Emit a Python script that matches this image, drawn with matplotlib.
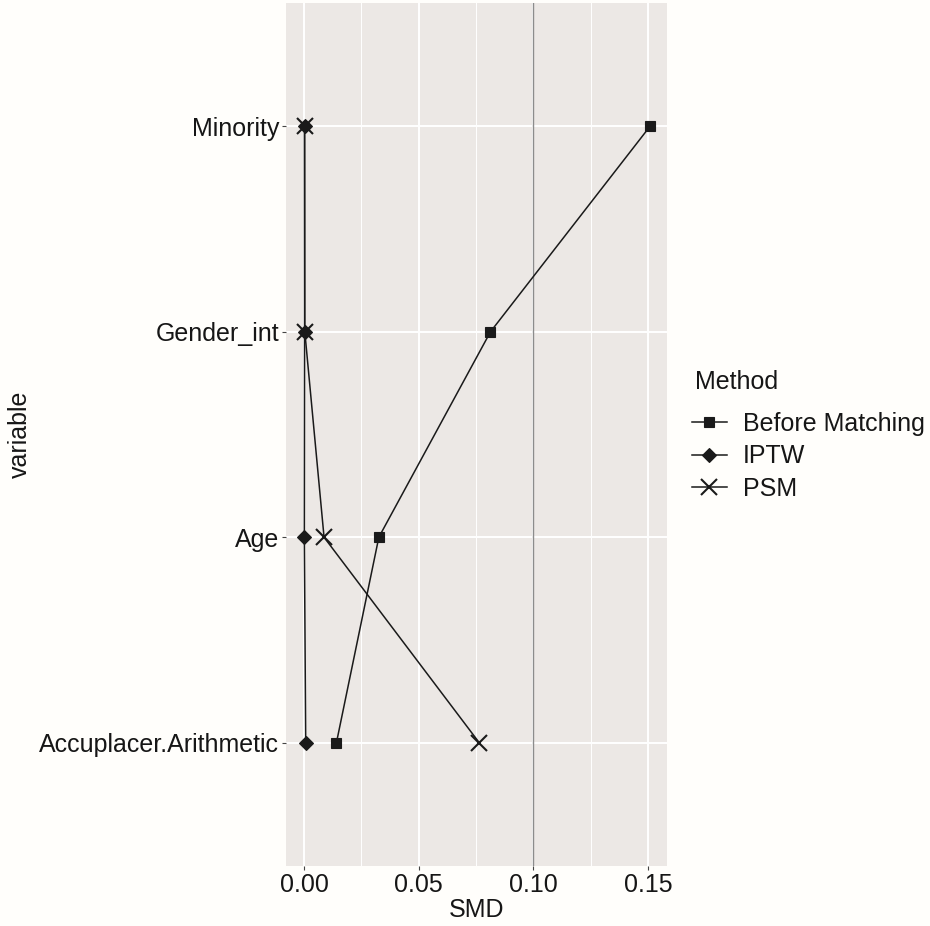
import matplotlib.pyplot as plt
from matplotlib.lines import Line2D
import numpy as np

plt.rcParams['font.family'] = ['Liberation Sans', 'DejaVu Sans']

variables = ["Accuplacer.Arithmetic", "Age", "Gender_int", "Minority"]
methods = ["Before Matching", "IPTW", "PSM"]
smd_before = [0.0141, 0.0326, 0.0813, 0.1509]
smd_iptw = [0.0007, 0.0001, 0.0002, 0.0002]
smd_psm = [0.0764, 0.0087, 0.0003, 0.0002]
markers = ["s", "D", "x"]
marker_sizes = [7, 7.5, 12]

text_col = "#161616"
panel_col = "#ECE8E5"
fs = 18

fig = plt.figure(figsize=(9.3, 9.26), dpi=100)
fig.patch.set_facecolor("#FFFEFB")
ax = fig.add_axes([286 / 930, 1 - 866 / 926, (667 - 286) / 930, (866 - 3) / 926])
ax.set_facecolor(panel_col)

y = np.arange(1, len(variables) + 1)
for vals, mk, ms in zip([smd_before, smd_iptw, smd_psm], markers, marker_sizes):
    ax.plot(vals, y, color="#1a1a1a", lw=1.1, marker=mk, ms=ms,
            mew=1.5 if mk == "x" else 0.8, zorder=3)

ax.axvline(0.10, color="#8c8c8c", lw=1.0, zorder=2)

ax.set_xlim(-0.0079, 0.1583)
ax.set_ylim(0.4, 4.6)
ax.set_xticks([0.0, 0.05, 0.10, 0.15])
ax.set_xticklabels(["0.00", "0.05", "0.10", "0.15"])
ax.set_xticks([0.025, 0.075, 0.125], minor=True)
ax.set_yticks(y)
ax.set_yticklabels(variables)

ax.grid(which="major", color="white", lw=1.4, zorder=0)
ax.grid(which="minor", axis="x", color="white", lw=0.7, zorder=0)
ax.set_axisbelow(True)
for s in ax.spines.values():
    s.set_visible(False)

ax.tick_params(which="major", length=3, width=0.8, color="#444444",
               labelsize=fs, labelcolor=text_col, pad=2)
ax.tick_params(which="minor", length=0)

ax.set_xlabel("SMD", fontsize=fs, color=text_col, labelpad=1)
ax.set_ylabel("variable", fontsize=fs, color=text_col, labelpad=5)

# legend title drawn separately to get the ggplot-like gap below it
fig.text(695 / 930, 1 - 382 / 926, "Method", fontsize=fs, color=text_col,
         ha="left", va="center")
handles = [Line2D([0], [0], color="#1a1a1a", lw=1.1, marker=mk, ms=ms,
                  mew=1.5 if mk == "x" else 0.8)
           for mk, ms in zip(markers, marker_sizes)]
leg = fig.legend(handles, methods, loc="upper left",
                 bbox_to_anchor=(669 / 930, 1 - 389 / 926), frameon=False,
                 prop={"size": fs}, handlelength=1.4, handletextpad=0.65,
                 labelspacing=0.35)
for t in leg.get_texts():
    t.set_color(text_col)

fig.savefig("out.png", dpi=100, facecolor=fig.get_facecolor())
